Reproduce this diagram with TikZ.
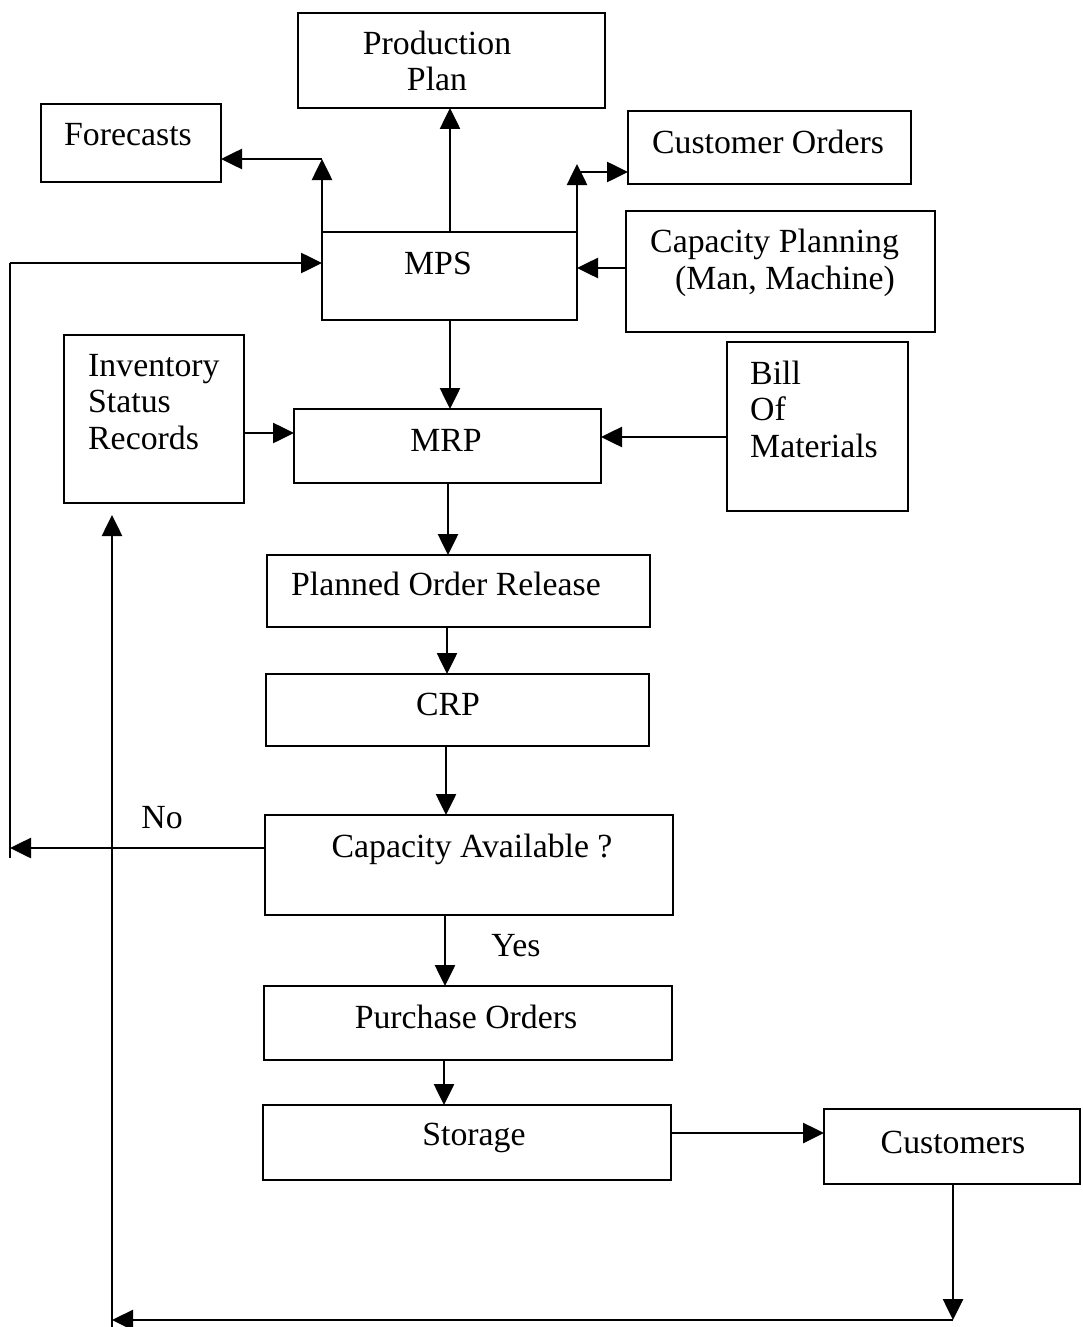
\documentclass[tikz,border=0pt]{standalone}
\usepackage{fontspec}
\setmainfont{Liberation Serif}
\usetikzlibrary{arrows.meta}
\begin{document}
\begin{tikzpicture}[x=1pt,y=-1pt,
  box/.style={draw, line width=2.6pt, inner sep=0pt, outer sep=0pt},
  lbl/.style={inner sep=0pt, font=\fontsize{33.8}{36.5}\selectfont},
  arr/.style={line width=2.6pt, -{Triangle[length=21pt,width=20pt]}},
  ln/.style={line width=2.6pt}]
\useasboundingbox (0,0) rectangle (1082,1327);
\fill[white] (0,0) rectangle (1082,1327);

% boxes: name, left, top, right, bottom
\newcommand{\flowbox}[5]{%
  \node[box, minimum width={(#4-#2)*1pt}, minimum height={(#5-#3)*1pt}]
    (#1) at ({(#2+#4)/2},{(#3+#5)/2}) {};}
\flowbox{plan}{298}{13}{605}{108}
\flowbox{fc}{41}{104}{221}{182}
\flowbox{co}{628}{111}{911}{184}
\flowbox{mps}{322}{232}{577}{320}
\flowbox{cap}{626}{211}{935}{332}
\flowbox{inv}{64}{335}{244}{503}
\flowbox{mrp}{294}{409}{601}{483}
\flowbox{bom}{727}{342}{908}{511}
\flowbox{por}{267}{555}{650}{627}
\flowbox{crp}{266}{674}{649}{746}
\flowbox{avail}{265}{815}{673}{915}
\flowbox{po}{264}{986}{672}{1060}
\flowbox{st}{263}{1105}{671}{1180}
\flowbox{cu}{824}{1109}{1080}{1184}

% texts
\node[lbl, align=center] (tplan) at (437,61) {Production\\Plan};
\node[lbl] (tfc) at (128,135) {Forecasts};
\node[lbl] (tco) at (768,142) {Customer Orders};
\node[lbl] (tmps) at (438,263) {MPS};
\node[lbl, align=left, anchor=west] (tcap) at (650,263) {Capacity Planning\\\hspace*{25pt}(Man, Machine)};
\node[lbl, align=left, anchor=west] (tinv) at (88,402) {Inventory\\Status\\Records};
\node[lbl] (tmrp) at (446,440) {MRP};
\node[lbl, align=left, anchor=west] (tbom) at (750,409) {Bill\\Of\\Materials};
\node[lbl] (tpor) at (446,584) {Planned Order Release};
\node[lbl] (tcrp) at (448,704) {CRP};
\node[lbl] (tavail) at (472,849) {Capacity Available ?};
\node[lbl] (tpo) at (466,1017) {Purchase Orders};
\node[lbl] (tst) at (474,1138) {Storage};
\node[lbl] (tcu) at (953,1142) {Customers};
\node[lbl] (tno) at (162,818) {No};
\node[lbl] (tyes) at (516,946) {Yes};

% helper points
\coordinate (fcup) at (322,159);
\coordinate (coup) at (577,172);
\coordinate (noend) at (10,848);
\coordinate (loopbot) at (10,858);
\coordinate (looptop) at (10,263);
\coordinate (retdown) at (953,1320);
\coordinate (retleft) at (112,1320);
\coordinate (retbot) at (112,1327);
\coordinate (retup) at (112,515);

% connectors around MPS
\draw[arr] (mps.north -| 450,0) -- (plan.south -| 450,0);
\draw[arr] (mps.north west) -- (fcup);
\draw[arr] (fcup) -- (fcup -| fc.east);
\draw[arr] (mps.north east) -- (577,164);
\draw[arr] (coup) -- (coup -| co.west);
\draw[arr] (cap.west |- 0,268) -- (mps.east |- 0,268);
\draw[ln] (loopbot) -- (looptop);
\draw[arr] (looptop) -- (looptop -| mps.west);
\draw[arr] (avail.west |- noend) -- (noend);

% main chain
\draw[arr] (mps.south -| 450,0) -- (mrp.north -| 450,0);
\draw[arr] (inv.east |- 0,433) -- (mrp.west |- 0,433);
\draw[arr] (bom.west |- 0,437) -- (mrp.east |- 0,437);
\draw[arr] (mrp.south -| 448,0) -- (por.north -| 448,0);
\draw[arr] (por.south -| 447,0) -- (crp.north -| 447,0);
\draw[arr] (crp.south -| 446,0) -- (avail.north -| 446,0);
\draw[arr] (avail.south -| 445,0) -- (po.north -| 445,0);
\draw[arr] (po.south -| 444,0) -- (st.north -| 444,0);
\draw[arr] (st.east |- 0,1133) -- (cu.west |- 0,1133);

% return loop to inventory
\draw[arr] (cu.south -| retdown) -- (retdown);
\draw[arr] (retdown) -- (retleft);
\draw[arr] (retbot) -- (retup);
\end{tikzpicture}
\end{document}
